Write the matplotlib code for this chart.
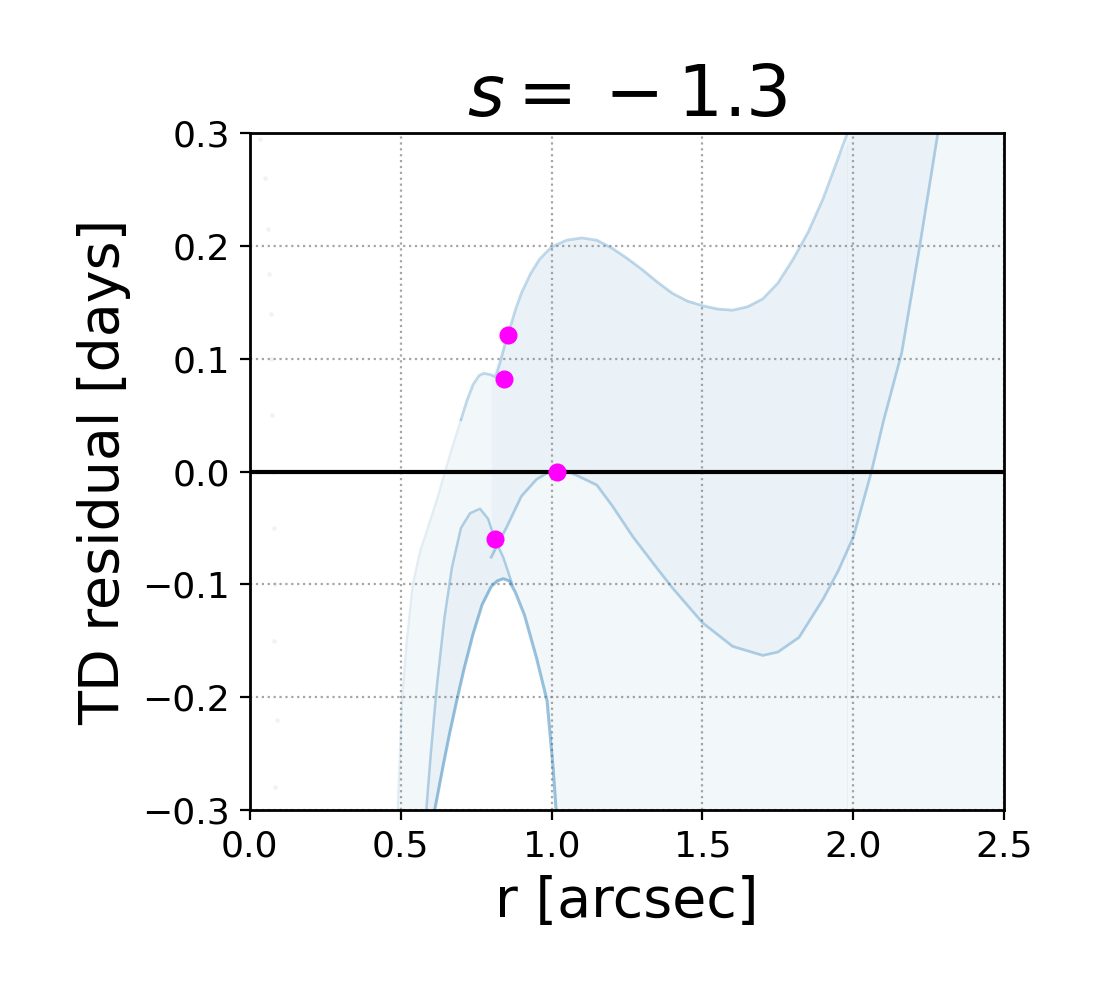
import numpy as np
import matplotlib
matplotlib.use("Agg")
import matplotlib.pyplot as plt

# upper boundary of the curve family (left edge, small bump, main upper edge)
upper_r = [0.49, 0.505, 0.52, 0.54, 0.565, 0.59, 0.62, 0.647, 0.675, 0.70, 0.72, 0.74, 0.76,
           0.775, 0.795, 0.815, 0.83, 0.845, 0.86, 0.88, 0.90, 0.93, 0.96, 1.00, 1.05, 1.10,
           1.15, 1.20, 1.25, 1.30, 1.35, 1.40, 1.45, 1.50, 1.55, 1.60, 1.65, 1.70, 1.75,
           1.80, 1.85, 1.90, 1.95, 1.98]
upper_td = [-0.30, -0.20, -0.15, -0.10, -0.07, -0.05, -0.025, 0.0, 0.025, 0.046, 0.063, 0.077,
            0.085, 0.087, 0.086, 0.084, 0.097, 0.112, 0.125, 0.143, 0.158, 0.175, 0.188, 0.199,
            0.205, 0.207, 0.205, 0.198, 0.189, 0.179, 0.168, 0.158, 0.151, 0.147, 0.144, 0.143,
            0.146, 0.153, 0.167, 0.188, 0.212, 0.242, 0.278, 0.300]

# lower edge of the main band
lower_r = [0.80, 0.85, 0.90, 0.95, 1.00, 1.03, 1.08, 1.15, 1.20, 1.27, 1.35, 1.40, 1.50, 1.60,
           1.70, 1.75, 1.82, 1.90, 1.95, 2.00, 2.06, 2.10, 2.16, 2.22, 2.28]
lower_td = [-0.076, -0.05, -0.022, -0.007, 0.001, 0.003, -0.003, -0.012, -0.03, -0.058, -0.086,
            -0.103, -0.134, -0.155, -0.163, -0.16, -0.147, -0.113, -0.088, -0.058, 0.0, 0.045,
            0.105, 0.20, 0.30]

# outer small arch
arch_r = [0.585, 0.60, 0.62, 0.645, 0.67, 0.70, 0.73, 0.763, 0.79, 0.812, 0.84, 0.87]
arch_td = [-0.30, -0.25, -0.19, -0.13, -0.085, -0.05, -0.037, -0.033, -0.042, -0.06, -0.076,
           -0.10]

# empty arch underneath
hole_r = [0.613, 0.64, 0.66, 0.686, 0.71, 0.74, 0.77, 0.80, 0.82, 0.84, 0.86, 0.88, 0.91,
          0.928, 0.95, 0.985, 1.005, 1.015]
hole_td = [-0.30, -0.262, -0.235, -0.203, -0.175, -0.144, -0.118, -0.102, -0.097, -0.095,
           -0.097, -0.107, -0.127, -0.144, -0.165, -0.203, -0.262, -0.30]

# faint stray points near r ~ 0.07
stray_r = [0.035, 0.05, 0.06, 0.065, 0.07, 0.07, 0.075, 0.08, 0.08, 0.085, 0.08, 0.09, 0.085]
stray_td = [0.295, 0.26, 0.215, 0.175, 0.14, 0.10, 0.05, 0.0, -0.05, -0.10, -0.15, -0.22, -0.28]

# measured points
obs_r = [0.855, 0.842, 1.018, 0.812]
obs_td = [0.121, 0.082, 0.0, -0.060]

blue = "#1f77b4"

fig = plt.figure(figsize=(5.5, 5), dpi=200)
ax = fig.add_axes([0.227, 0.19, 0.686, 0.677])

# faint coverage of the whole family
ax.fill_between(upper_r, -0.3, upper_td, color=blue, alpha=0.055, lw=0)
ax.fill_between([1.98, 2.5], -0.3, 0.3, color=blue, alpha=0.055, lw=0)
ax.fill_between(lower_r, lower_td, np.interp(lower_r, upper_r, upper_td, right=0.3),
                color=blue, alpha=0.03, lw=0)
ax.fill_between(arch_r, -0.3, arch_td, color=blue, alpha=0.04, lw=0)
ax.fill_between(hole_r, -0.3, hole_td, color="white", lw=0, zorder=1.5)

# denser edges of the family (left flank is only faint)
ax.plot(upper_r[:10], upper_td[:10], color=blue, alpha=0.12, lw=0.8)
ax.plot(upper_r[9:], upper_td[9:], color=blue, alpha=0.28, lw=1.0)
ax.plot(lower_r, lower_td, color=blue, alpha=0.32, lw=1.0)
ax.plot(arch_r, arch_td, color=blue, alpha=0.32, lw=0.9)
ax.plot(hole_r, hole_td, color=blue, alpha=0.45, lw=1.1, zorder=2)
ax.scatter(stray_r, stray_td, s=3, color=blue, alpha=0.08, lw=0)

ax.axhline(0, color="black", lw=1.5, zorder=3)
ax.plot(obs_r, obs_td, "o", color="magenta", ms=5.5, zorder=4)

ax.set_xlim(0, 2.5)
ax.set_ylim(-0.3, 0.3)
ax.set_xticks([0.0, 0.5, 1.0, 1.5, 2.0, 2.5])
ax.set_yticks([-0.3, -0.2, -0.1, 0.0, 0.1, 0.2, 0.3])
ax.grid(True, ls=":", color="gray", alpha=0.7, lw=0.8)
ax.tick_params(labelsize=13)
for sp in ax.spines.values():
    sp.set_linewidth(1.0)

ax.set_xlabel("r [arcsec]", fontsize=20)
ax.set_ylabel("TD residual [days]", fontsize=20)
ax.set_title(r"$s= {}-1.3$", fontsize=25.5)

fig.savefig("out.png", dpi=200)
